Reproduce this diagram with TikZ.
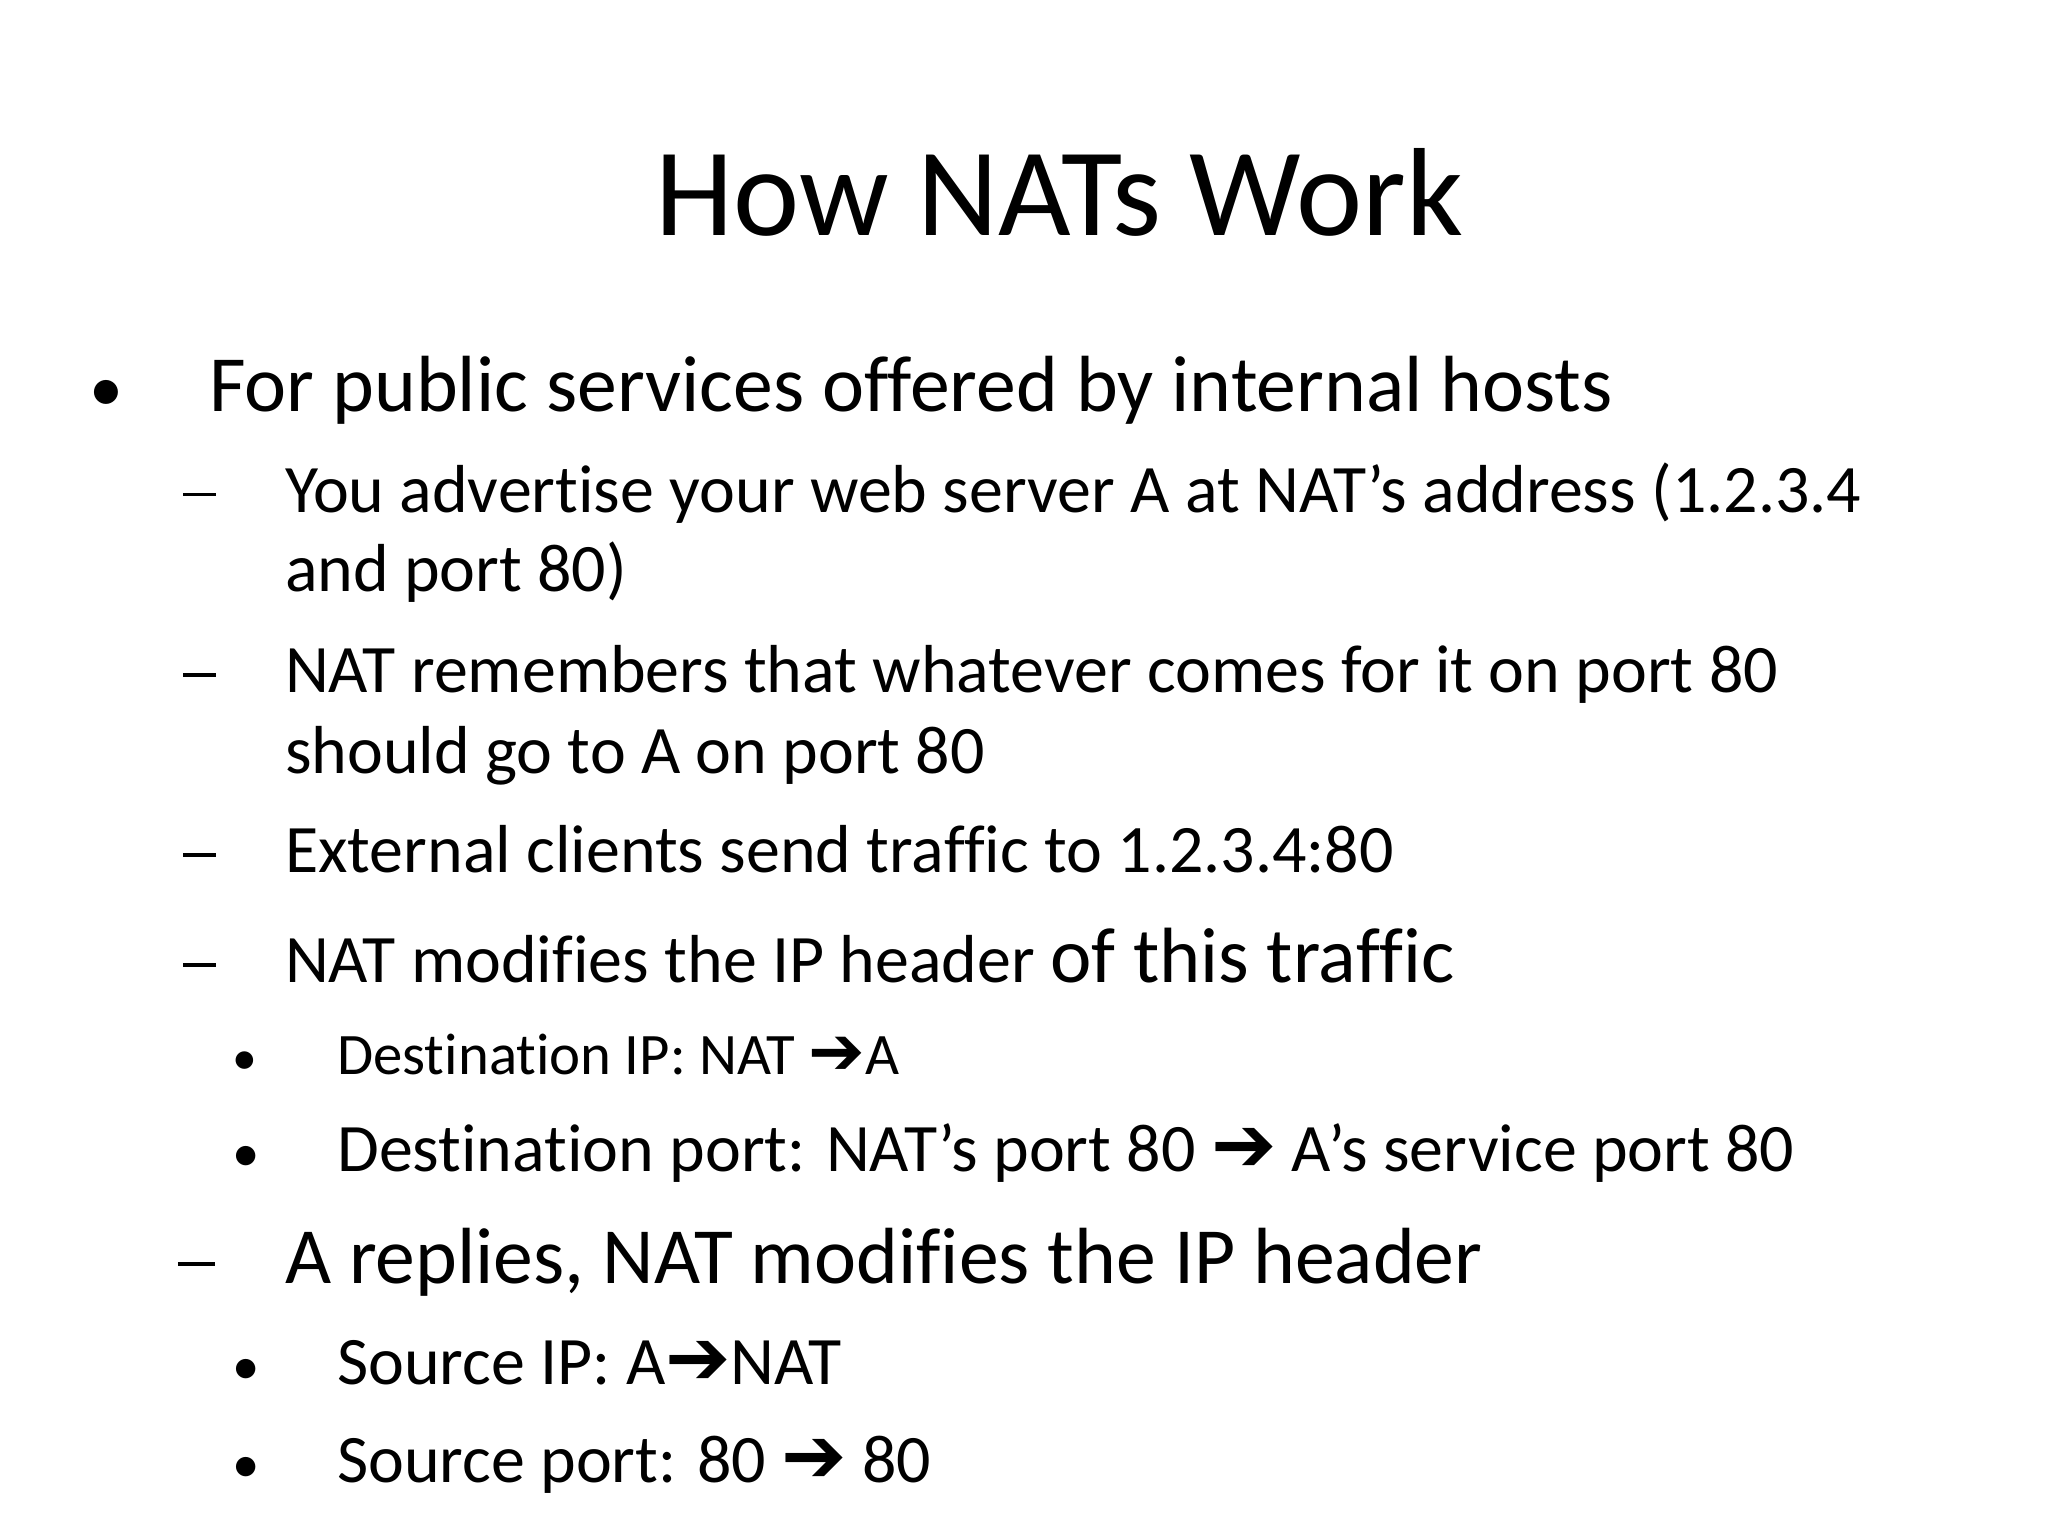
\documentclass[tikz,border=0pt]{standalone}
\usepackage{fontspec}
\setmainfont[Ligatures=NoCommon]{Carlito}
\newfontfamily\arr{DejaVu Sans}
\newcommand{\fs}[1]{\fontsize{#1}{#1}\selectfont}
\newcommand{\ar}{{\arr\bfseries\scalebox{1.15}{➔}}}
\newcommand{\dsh}{\rule[0.22em]{0.46em}{0.05em}}
\begin{document}
\begin{tikzpicture}[x=1pt,y=-1pt,t/.style={anchor=base west,inner sep=0pt}]
\useasboundingbox (0,0) rectangle (1568,1176);
\node[anchor=base,inner sep=0pt] (title) at (811,180) {\fs{96}How NATs Work};
\node[t] (b1) at (68,315) {\fs{52}•};
\node[t] (l1) at (160,315) {\fs{61}For public services offered by internal hosts};
\node[t] (d1) at (140,392) {\fs{54}\dsh};
\node[t] (s1) at (218,392) {\fs{52}You advertise your web server A at NAT’s address (1.2.3.4};
\node[t] (s1b) at (218,453) {\fs{52}and port 80)};
\node[t] (d2) at (140,530) {\fs{54}\dsh};
\node[t] (s2) at (218,530) {\fs{52}NAT remembers that whatever comes for it on port 80};
\node[t] (s2b) at (218,592) {\fs{52}should go to A on port 80};
\node[t] (d3) at (140,668) {\fs{54}\dsh};
\node[t] (s3) at (218,668) {\fs{52}External clients send traffic to 1.2.3.4:80};
\node[t] (d4) at (140,752) {\fs{54}\dsh};
\node[t] (s4) at (218,752) {\fs{52}NAT modifies the IP header \fs{60}of this traffic};
\node[t] (e1) at (178,823) {\fs{38}•};
\node[t] (t1) at (258,823) {\fs{45}Destination IP: NAT \ar A};
\node[t] (e2) at (178,897) {\fs{42}•};
\node[t] (t2) at (258,897) {\fs{52}Destination port: NAT’s port 80 \ar\ A’s service port 80};
\node[t] (d5) at (136,983) {\fs{61}\dsh};
\node[t] (s5) at (218,983) {\fs{61}A replies, NAT modifies the IP header};
\node[t] (e3) at (178,1060) {\fs{42}•};
\node[t] (t3) at (258,1060) {\fs{52}Source IP: A\ar NAT};
\node[t] (e4) at (178,1135) {\fs{42}•};
\node[t] (t4) at (258,1135) {\fs{52}Source port: 80 \ar\ 80};
\end{tikzpicture}
\end{document}
